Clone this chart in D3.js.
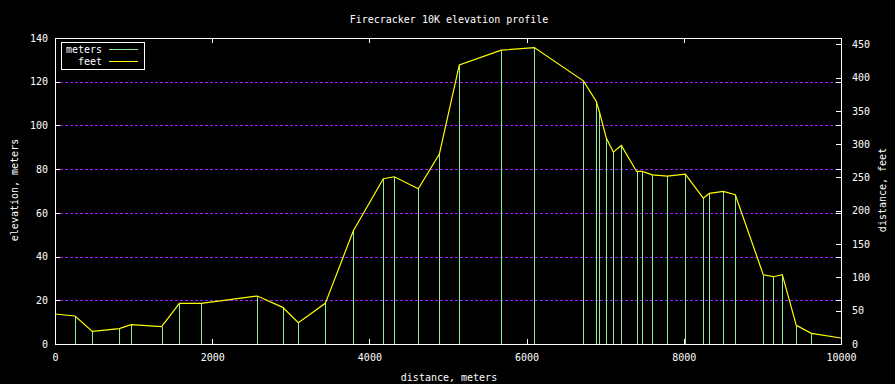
<!DOCTYPE html>
<html>
<head>
<meta charset="utf-8">
<script src="https://cdn.jsdelivr.net/npm/d3@7"></script>
<style>
  body { margin: 0; background: #000; }
  svg { display: block; }
  text { font-family: "DejaVu Sans Mono", monospace; font-size: 10px; fill: #fff; }
</style>
</head>
<body>
<svg id="chart" width="895" height="384"></svg>
<script>
// distance along the course (m)
const distance = [0, 254, 475, 818, 967, 1357, 1582, 1862, 2574, 2897, 3096, 3439, 3796, 4177, 4317,
  4622, 4890, 5144, 5678, 6098, 6722, 6887, 6925, 7014, 7103, 7205, 7400, 7472, 7599, 7790,
  8019, 8248, 8324, 8502, 8655, 9011, 9139, 9253, 9431, 9622, 10000];
// elevation, meters (left axis)
const meters = [13.7, 12.8, 5.8, 6.9, 8.9, 7.8, 18.6, 18.6, 21.8, 16.8, 9.9, 18.6, 51.8, 75.6, 76.5,
  71.1, 86.9, 127.8, 134.5, 135.7, 120.5, 111.0, 106.3, 94.1, 87.8, 90.7, 79.0, 78.8, 77.5, 76.7,
  77.6, 66.9, 68.9, 69.9, 68.2, 31.6, 30.7, 31.6, 8.5, 4.9, 2.6];
// elevation, feet (right axis)
const feet = [45, 42, 19, 23, 29, 26, 61, 61, 72, 55, 32, 61, 170, 248, 251,
  233, 285, 419, 441, 445, 395, 364, 349, 309, 288, 298, 259, 259, 254, 252,
  255, 219, 226, 229, 224, 104, 101, 104, 28, 16, 9];

const xTicks = [0, 2000, 4000, 6000, 8000, 10000];
const yTicks = [0, 20, 40, 60, 80, 100, 120, 140];
const y2Ticks = [0, 50, 100, 150, 200, 250, 300, 350, 400, 450];
const gridTicks = [20, 40, 60, 80, 100, 120];

let meterColor = "#90ee90";
let feetColor = "#ffff00";
let gridColor = "#a020f0";

const svg = d3.select("#chart");
svg.append("rect").attr("width", 895).attr("height", 384).attr("fill", "#000");

const plotLeft = 55, plotRight = 841, plotTop = 38, plotBottom = 344;

const x = d3.scaleLinear().domain([0, 10000]).range([plotLeft, plotRight]);
const y = d3.scaleLinear().domain([0, 140]).range([plotBottom, plotTop]);
// same vertical extent, expressed in feet
const y2 = d3.scaleLinear().domain([0, 140 * 3.28084]).range([plotBottom, plotTop]);

// grid
svg.append("g")
  .selectAll("line")
  .data(gridTicks)
  .enter()
  .append("line")
  .attr("x1", plotLeft)
  .attr("x2", plotRight)
  .attr("y1", (d) => Math.round(y(d)) + 0.5)
  .attr("y2", (d) => Math.round(y(d)) + 0.5)
  .attr("stroke", gridColor)
  .attr("stroke-dasharray", "3,2")
  .attr("stroke-width", 1);

// impulses (meters)
svg.append("g")
  .selectAll("line")
  .data(distance)
  .enter()
  .append("line")
  .attr("x1", (d) => Math.round(x(d)) + 0.5)
  .attr("x2", (d) => Math.round(x(d)) + 0.5)
  .attr("y1", y(0))
  .attr("y2", (d, i) => y(meters[i]))
  .attr("stroke", meterColor)
  .attr("stroke-width", 1)
  .attr("shape-rendering", "crispEdges");

// profile line (feet, right axis)
const line = d3.line()
  .x((d) => x(d))
  .y((d, i) => y2(feet[i]));

svg.append("path")
  .datum(distance)
  .attr("d", line)
  .attr("fill", "none")
  .attr("stroke", feetColor)
  .attr("stroke-width", 1.2);

// axes
const styleAxis = (g) => {
  g.select(".domain").remove();
  g.selectAll(".tick line").attr("stroke", "#fff").attr("shape-rendering", "crispEdges");
  g.selectAll(".tick text").attr("fill", "#fff").style("font-family", "DejaVu Sans Mono, monospace").style("font-size", "10px");
};

svg.append("g")
  .attr("transform", `translate(${plotLeft},0)`)
  .call(d3.axisLeft(y).tickValues(yTicks).tickSize(-5).tickSizeOuter(0).tickPadding(7).tickFormat(d3.format("d")))
  .call(styleAxis);

svg.append("g")
  .attr("transform", `translate(${plotRight},0)`)
  .call(d3.axisRight(y).tickValues(yTicks).tickSize(-5).tickSizeOuter(0).tickFormat(""))
  .call(styleAxis);

svg.append("g")
  .attr("transform", `translate(${plotRight},0)`)
  .call(d3.axisRight(y2).tickValues(y2Ticks).tickSize(-5).tickSizeOuter(0).tickPadding(11).tickFormat(d3.format("d")))
  .call(styleAxis);

svg.append("g")
  .attr("transform", `translate(0,${plotBottom})`)
  .call(d3.axisBottom(x).tickValues(xTicks).tickSize(-5).tickSizeOuter(0).tickPadding(10).tickFormat(d3.format("d")))
  .call(styleAxis);

svg.append("g")
  .attr("transform", `translate(0,${plotTop})`)
  .call(d3.axisTop(x).tickValues(xTicks).tickSize(-5).tickSizeOuter(0).tickFormat(""))
  .call(styleAxis);

// border
svg.append("rect")
  .attr("x", plotLeft + 0.5)
  .attr("y", plotTop + 0.5)
  .attr("width", plotRight - plotLeft)
  .attr("height", plotBottom - plotTop)
  .attr("fill", "none")
  .attr("stroke", "#fff")
  .attr("shape-rendering", "crispEdges");

// titles
svg.append("text")
  .attr("x", 449)
  .attr("y", 23)
  .attr("text-anchor", "middle")
  .text("Firecracker 10K elevation profile");

svg.append("text")
  .attr("x", 449)
  .attr("y", 381)
  .attr("text-anchor", "middle")
  .text("distance, meters");

svg.append("text")
  .attr("transform", "translate(18,190) rotate(-90)")
  .attr("text-anchor", "middle")
  .text("elevation, meters");

svg.append("text")
  .attr("transform", "translate(886,190) rotate(-90)")
  .attr("text-anchor", "middle")
  .text("distance, feet");

// legend
const legend = svg.append("g");
legend.append("rect")
  .attr("x", 61.5)
  .attr("y", 42.5)
  .attr("width", 83)
  .attr("height", 27)
  .attr("fill", "#000")
  .attr("stroke", "#fff")
  .attr("shape-rendering", "crispEdges");

const legendItems = [
  { label: "meters", color: meterColor, cy: 49 },
  { label: "feet", color: feetColor, cy: 61 },
];

legend.selectAll("text")
  .data(legendItems)
  .enter()
  .append("text")
  .attr("x", 102)
  .attr("y", (d) => d.cy + 3.5)
  .attr("text-anchor", "end")
  .text((d) => d.label);

legend.selectAll("line")
  .data(legendItems)
  .enter()
  .append("line")
  .attr("x1", 109)
  .attr("x2", 138)
  .attr("y1", (d) => d.cy + 0.5)
  .attr("y2", (d) => d.cy + 0.5)
  .attr("stroke", (d) => d.color)
  .attr("shape-rendering", "crispEdges");
</script>
</body>
</html>
